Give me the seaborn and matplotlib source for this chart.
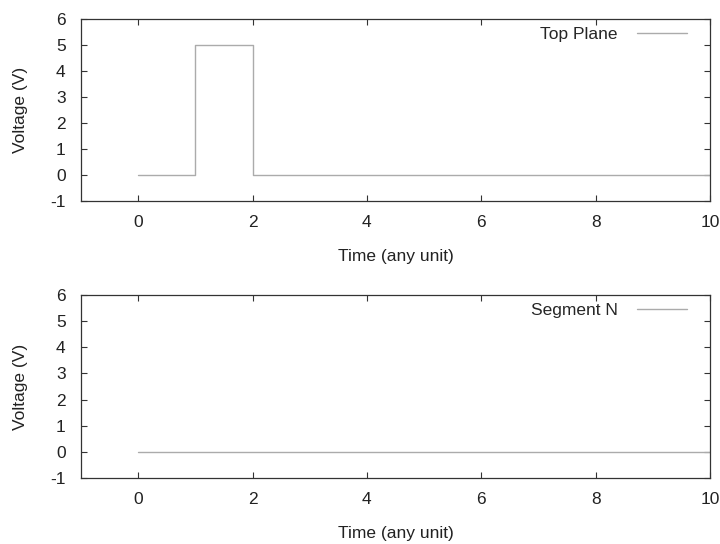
import pandas as pd
import matplotlib
matplotlib.use("Agg")
import matplotlib.pyplot as plt
import seaborn as sns

# señales (tiempo, voltaje) - escalones
top_time = [0, 1, 2, 10]
top_volt = [0, 5, 0, 0]
seg_time = [0, 10]
seg_volt = [0, 0]
labels = ["Top Plane", "Segment N"]

x_ticks = [0, 2, 4, 6, 8, 10]
y_ticks = [-1, 0, 1, 2, 3, 4, 5, 6]

sns.set_theme(style="ticks")
plt.rcParams["font.family"] = ["Liberation Sans", "DejaVu Sans"]
plt.rcParams["axes.unicode_minus"] = False
fs = 12.5

fig = plt.figure(figsize=(7.2, 5.44), dpi=100)
ax1 = fig.add_axes([81 / 720, 1 - 201 / 544, 629 / 720, 182 / 544])
ax2 = fig.add_axes([81 / 720, 1 - 478 / 544, 629 / 720, 183 / 544])

dfs = [pd.DataFrame({"t": top_time, "v": top_volt}),
       pd.DataFrame({"t": seg_time, "v": seg_volt})]

for ax, df, lab in zip([ax1, ax2], dfs, labels):
    sns.lineplot(data=df, x="t", y="v", ax=ax, drawstyle="steps-post",
                 color="#ababab", linewidth=1.0, label=lab)
    ax.set_xlim(-1, 10)
    ax.set_ylim(-1, 6)
    ax.set_xticks(x_ticks)
    ax.set_yticks(y_ticks)
    ax.set_xlabel("Time (any unit)", fontsize=fs, color="#222222", labelpad=14)
    ax.set_ylabel("Voltage (V)", fontsize=fs, color="#222222", labelpad=16)
    ax.tick_params(direction="in", length=4, width=0.8, top=True, right=True,
                   labelsize=fs, colors="#333333", labelcolor="#222222")
    ax.tick_params(axis="x", pad=10)
    ax.tick_params(axis="y", pad=11)
    for sp in ax.spines.values():
        sp.set_color("#333333")
        sp.set_linewidth(0.9)
    ax.legend(loc="upper right", frameon=False, markerfirst=False,
              bbox_to_anchor=(1 - 23 / 629, 1 - 7.5 / 182),
              handlelength=2.9, fontsize=fs, borderaxespad=0, borderpad=0,
              handletextpad=1.1)

fig.savefig("out.png", dpi=100)
